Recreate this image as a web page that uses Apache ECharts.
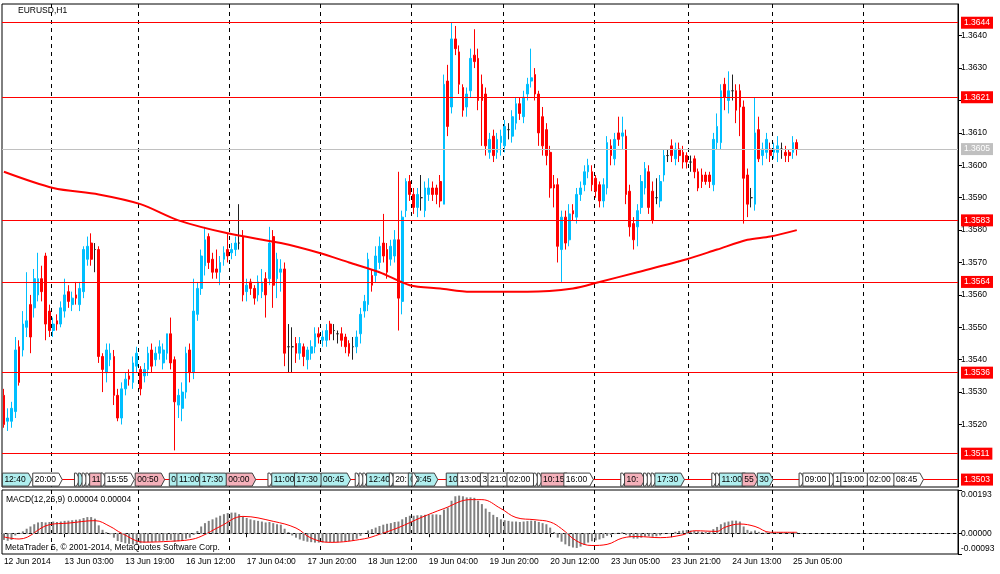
<!DOCTYPE html>
<html>
<head>
<meta charset="utf-8">
<title>EURUSD,H1</title>
<script src="https://cdn.jsdelivr.net/npm/echarts@6/dist/echarts.min.js"></script>
<style>
html,body{margin:0;padding:0;background:#fff}
#container{width:1000px;height:574px}
</style>
</head>
<body>
<div id="container"></div>
<script>
// H1 bars, [open, close, low, high]
var candles = [
[1.3529,1.3520,1.3519,1.3531],[1.3521,1.3522,1.3518,1.3525],[1.3521,1.3525,1.3519,1.3527],[1.3524,1.3543,1.3522,1.3547],[1.3544,1.3533,1.3532,1.3546],
[1.3543,1.3551,1.3541,1.3555],[1.3550,1.3552,1.3547,1.3567],[1.3557,1.3547,1.3542,1.3560],[1.3556,1.3565,1.3553,1.3568],[1.3560,1.3565,1.3558,1.3573],
[1.3565,1.3561,1.3558,1.3569],[1.3572,1.3551,1.3546,1.3573],[1.3555,1.3549,1.3547,1.3557],[1.3549,1.3551,1.3547,1.3553],[1.3552,1.3551,1.3549,1.3554],
[1.3551,1.3556,1.3550,1.3558],[1.3555,1.3560,1.3553,1.3565],[1.3561,1.3558,1.3556,1.3563],[1.3557,1.3559,1.3555,1.3561],[1.3560,1.3559,1.3557,1.3564],
[1.3557,1.3562,1.3555,1.3564],[1.3561,1.3574,1.3559,1.3575],[1.3571,1.3575,1.3569,1.3578],[1.3576,1.3571,1.3569,1.3579],[1.3574,1.3574,1.3567,1.3576],
[1.3574,1.3541,1.3539,1.3575],[1.3541,1.3537,1.3530,1.3542],[1.3536,1.3543,1.3533,1.3545],[1.3540,1.3542,1.3538,1.3545],[1.3541,1.3529,1.3526,1.3543],
[1.3529,1.3522,1.3521,1.3531],[1.3522,1.3531,1.3520,1.3533],[1.3531,1.3534,1.3529,1.3536],[1.3535,1.3534,1.3532,1.3537],[1.3533,1.3539,1.3531,1.3541],
[1.3538,1.3542,1.3536,1.3544],[1.3537,1.3531,1.3529,1.3538],[1.3535,1.3537,1.3533,1.3539],[1.3537,1.3542,1.3535,1.3544],[1.3543,1.3538,1.3536,1.3545],
[1.3540,1.3542,1.3538,1.3544],[1.3542,1.3544,1.3540,1.3546],[1.3539,1.3543,1.3537,1.3545],[1.3542,1.3548,1.3540,1.3548],[1.3548,1.3539,1.3537,1.3553],
[1.3540,1.3527,1.3512,1.3541],[1.3526,1.3529,1.3522,1.3531],[1.3525,1.3530,1.3521,1.3533],[1.3530,1.3542,1.3528,1.3544],[1.3543,1.3536,1.3533,1.3545],
[1.3536,1.3555,1.3534,1.3565],[1.3554,1.3562,1.3552,1.3564],[1.3562,1.3572,1.3560,1.3574],[1.3569,1.3577,1.3566,1.3581],[1.3578,1.3570,1.3568,1.3579],
[1.3571,1.3567,1.3565,1.3573],[1.3568,1.3567,1.3565,1.3574],[1.3567,1.3570,1.3563,1.3572],[1.3571,1.3573,1.3569,1.3575],[1.3574,1.3572,1.3570,1.3579],
[1.3573,1.3574,1.3571,1.3576],[1.3574,1.3576,1.3572,1.3578],[1.3576,1.3576,1.3574,1.3588],[1.3578,1.3560,1.3558,1.3580],[1.3561,1.3563,1.3558,1.3565],
[1.3564,1.3562,1.3560,1.3565],[1.3562,1.3559,1.3557,1.3563],[1.3560,1.3564,1.3558,1.3566],[1.3561,1.3564,1.3559,1.3568],[1.3565,1.3560,1.3553,1.3567],
[1.3565,1.3576,1.3563,1.3581],[1.3578,1.3563,1.3556,1.3580],[1.3565,1.3571,1.3559,1.3573],[1.3567,1.3568,1.3561,1.3571],[1.3568,1.3542,1.3538,1.3570],
[1.3544,1.3544,1.3536,1.3551],[1.3544,1.3544,1.3536,1.3550],[1.3545,1.3542,1.3539,1.3547],[1.3542,1.3545,1.3540,1.3547],[1.3544,1.3541,1.3538,1.3545],
[1.3540,1.3543,1.3537,1.3544],[1.3542,1.3544,1.3540,1.3546],[1.3544,1.3548,1.3542,1.3550],[1.3548,1.3547,1.3545,1.3550],[1.3546,1.3547,1.3544,1.3549],
[1.3546,1.3549,1.3544,1.3551],[1.3551,1.3548,1.3546,1.3552],[1.3549,1.3549,1.3546,1.3551],[1.3548,1.3548,1.3545,1.3549],[1.3548,1.3546,1.3544,1.3550],
[1.3547,1.3544,1.3542,1.3548],[1.3545,1.3542,1.3541,1.3546],[1.3544,1.3544,1.3540,1.3547],[1.3544,1.3547,1.3542,1.3549],[1.3548,1.3554,1.3545,1.3556],
[1.3555,1.3558,1.3553,1.3560],[1.3557,1.3571,1.3555,1.3573],[1.3566,1.3563,1.3561,1.3568],[1.3566,1.3572,1.3564,1.3575],[1.3570,1.3575,1.3568,1.3578],
[1.3576,1.3572,1.3570,1.3585],[1.3574,1.3567,1.3565,1.3576],[1.3571,1.3575,1.3569,1.3577],[1.3572,1.3577,1.3570,1.3580],[1.3577,1.3559,1.3549,1.3598],
[1.3558,1.3584,1.3554,1.3586],[1.3586,1.3595,1.3584,1.3596],[1.3595,1.3591,1.3589,1.3597],[1.3591,1.3587,1.3585,1.3593],[1.3587,1.3591,1.3584,1.3593],
[1.3590,1.3590,1.3586,1.3597],[1.3586,1.3593,1.3584,1.3595],[1.3591,1.3593,1.3589,1.3596],[1.3593,1.3591,1.3589,1.3595],[1.3593,1.3591,1.3588,1.3594],
[1.3595,1.3589,1.3587,1.3597],[1.3588,1.3625,1.3588,1.3628],[1.3626,1.3612,1.3609,1.3631],[1.3618,1.3639,1.3616,1.3644],[1.3639,1.3636,1.3634,1.3643],
[1.3635,1.3625,1.3622,1.3637],[1.3624,1.3617,1.3615,1.3625],[1.3618,1.3622,1.3615,1.3624],[1.3623,1.3633,1.3621,1.3636],[1.3634,1.3632,1.3630,1.3642],
[1.3633,1.3620,1.3617,1.3636],[1.3625,1.3620,1.3606,1.3628],[1.3622,1.3606,1.3603,1.3624],[1.3604,1.3608,1.3602,1.3610],[1.3609,1.3603,1.3601,1.3611],
[1.3604,1.3608,1.3602,1.3610],[1.3607,1.3609,1.3603,1.3611],[1.3606,1.3612,1.3604,1.3614],[1.3611,1.3611,1.3608,1.3613],[1.3609,1.3615,1.3607,1.3617],
[1.3613,1.3619,1.3611,1.3621],[1.3619,1.3616,1.3614,1.3621],[1.3615,1.3621,1.3613,1.3623],[1.3622,1.3625,1.3620,1.3627],[1.3626,1.3627,1.3624,1.3636],
[1.3628,1.3622,1.3620,1.3630],[1.3622,1.3610,1.3606,1.3623],[1.3615,1.3606,1.3603,1.3618],[1.3611,1.3603,1.3600,1.3613],[1.3604,1.3593,1.3590,1.3606],
[1.3594,1.3593,1.3587,1.3597],[1.3594,1.3575,1.3570,1.3596],[1.3574,1.3584,1.3564,1.3586],[1.3584,1.3576,1.3574,1.3586],[1.3577,1.3585,1.3575,1.3588],
[1.3586,1.3585,1.3583,1.3588],[1.3584,1.3591,1.3582,1.3593],[1.3591,1.3593,1.3589,1.3595],[1.3594,1.3598,1.3592,1.3600],[1.3598,1.3600,1.3596,1.3602],
[1.3598,1.3594,1.3592,1.3600],[1.3596,1.3592,1.3590,1.3597],[1.3594,1.3589,1.3587,1.3595],[1.3589,1.3594,1.3587,1.3596],[1.3593,1.3607,1.3591,1.3609],
[1.3606,1.3603,1.3600,1.3608],[1.3602,1.3608,1.3600,1.3610],[1.3610,1.3608,1.3606,1.3615],[1.3609,1.3610,1.3605,1.3615],[1.3609,1.3591,1.3588,1.3611],
[1.3592,1.3581,1.3578,1.3594],[1.3582,1.3577,1.3574,1.3584],[1.3581,1.3586,1.3575,1.3588],[1.3587,1.3595,1.3585,1.3597],[1.3593,1.3599,1.3591,1.3601],
[1.3598,1.3587,1.3585,1.3600],[1.3592,1.3583,1.3582,1.3595],[1.3590,1.3590,1.3588,1.3596],[1.3589,1.3595,1.3587,1.3597],[1.3597,1.3603,1.3595,1.3605],
[1.3603,1.3603,1.3601,1.3605],[1.3606,1.3603,1.3601,1.3608],[1.3602,1.3605,1.3600,1.3607],[1.3605,1.3603,1.3601,1.3607],[1.3604,1.3601,1.3599,1.3606],
[1.3603,1.3601,1.3599,1.3604],[1.3601,1.3601,1.3598,1.3603],[1.3602,1.3598,1.3596,1.3603],[1.3598,1.3593,1.3592,1.3599],[1.3597,1.3595,1.3593,1.3599],
[1.3597,1.3595,1.3594,1.3598],[1.3597,1.3595,1.3593,1.3598],[1.3594,1.3608,1.3592,1.3610],[1.3607,1.3612,1.3605,1.3616],[1.3607,1.3623,1.3605,1.3625],
[1.3625,1.3621,1.3617,1.3627],[1.3620,1.3623,1.3616,1.3629],[1.3623,1.3623,1.3620,1.3628],[1.3623,1.3617,1.3613,1.3625],[1.3623,1.3618,1.3609,1.3625],
[1.3618,1.3596,1.3582,1.3620],[1.3597,1.3588,1.3584,1.3599],[1.3590,1.3590,1.3587,1.3593],[1.3588,1.3610,1.3586,1.3621],[1.3611,1.3602,1.3601,1.3615],
[1.3603,1.3605,1.3600,1.3607],[1.3604,1.3608,1.3602,1.3610],[1.3605,1.3603,1.3601,1.3607],[1.3604,1.3605,1.3602,1.3607],[1.3604,1.3606,1.3601,1.3609],
[1.3605,1.3605,1.3602,1.3607],[1.3604,1.3603,1.3601,1.3606],[1.3604,1.3603,1.3601,1.3605],[1.3604,1.3607,1.3602,1.3609],[1.3607,1.3605,1.3603,1.3608]
];

// moving average read at points along the line: [bar, price]
var maPoints = [[0,1.3598],[13,1.3593],[25,1.3591],[36,1.3588],[46,1.3583],[59,1.3579],[73,1.3576],[83,1.3573],[91,1.3570],
  [99,1.3567],[107,1.3563],[115,1.3562],[123,1.3561],[131,1.3561],[138,1.3561],[150,1.3562],[157,1.3564],[167,1.3567],
  [180,1.3571],[188,1.3574],[196,1.3577],[202,1.3578],[209,1.3580]];

// MACD(12,26,9) main as histogram, one value per bar
var macdHist = [
-0.00030,-0.00034,-0.00030,-0.00010,0.00002,0.00008,0.00020,0.00030,0.00040,0.00048,
0.00050,0.00048,0.00050,0.00052,0.00050,0.00052,0.00055,0.00056,0.00058,0.00060,0.00062,
0.00068,0.00072,0.00072,0.00065,0.00035,0.00015,0.00005,-0.00005,
-0.00020,-0.00035,-0.00040,-0.00045,-0.00048,-0.00050,-0.00048,-0.00045,
-0.00042,-0.00040,-0.00040,-0.00038,-0.00036,-0.00034,-0.00032,-0.00030,-0.00038,-0.00036,-0.00034,-0.00025,
-0.00020,-0.00008,0.00010,0.00030,
0.00045,0.00055,0.00062,0.00070,0.00078,0.00085,0.00090,0.00092,
0.00092,0.00085,0.00075,0.00068,
0.00062,0.00058,0.00055,0.00052,0.00048,0.00050,0.00045,0.00040,0.00038,0.00020,
0.00005,-0.00010,-0.00020,-0.00028,-0.00034,-0.00038,
-0.00040,-0.00042,-0.00042,-0.00042,-0.00040,-0.00040,-0.00040,-0.00040,-0.00038,-0.00036,-0.00035,-0.00033,
-0.00025,-0.00012,0.00000,
0.00012,0.00018,0.00025,0.00032,0.00038,0.00042,0.00045,0.00050,0.00052,
0.00062,0.00072,0.00078,0.00078,0.00080,0.00080,0.00082,0.00082,0.00084,0.00084,0.00082,
0.00105,0.00115,0.00145,0.00165,0.00168,0.00165,0.00160,0.00160,
0.00158,0.00145,0.00130,0.00110,0.00095,0.00082,0.00072,0.00062,
0.00058,0.00055,0.00052,0.00052,0.00050,0.00052,0.00054,0.00056,0.00055,0.00050,0.00045,0.00040,
0.00025,0.00005,-0.00020,-0.00038,
-0.00050,-0.00058,-0.00064,-0.00066,-0.00060,
-0.00052,-0.00042,-0.00036,-0.00032,-0.00028,-0.00022,-0.00012,-0.00008,
-0.00004,0.00002,0.00004,-0.00008,-0.00018,-0.00024,-0.00024,-0.00020,-0.00015,-0.00014,
-0.00016,-0.00014,-0.00010,-0.00004,-0.00002,0.00000,
0.00006,0.00010,0.00012,0.00014,0.00012,0.00010,0.00008,0.00006,0.00006,0.00005,
0.00018,0.00028,0.00040,0.00048,0.00052,0.00056,0.00056,0.00052,
0.00030,0.00015,0.00008,0.00012,0.00006,
0.00002,0.00004,0.00002,0.00002,0.00003,0.00002,0.00003,0.00003,0.00004,0.00004
];

// signal line read at points: [bar, value]
var signalPoints = [[0,-0.00017],[4,-0.00026],[12,0.00038],[17,0.00045],[24,0.00056],[28,0.00030],[31,0.00000],[37,-0.00040],
  [44,-0.00036],[49,-0.00029],[52,-0.00014],[57,0.00030],[63,0.00075],[71,0.00053],[77,0.00023],[81,-0.00022],[86,-0.00041],
  [95,-0.00025],[99,-0.00005],[104,0.00025],[110,0.00070],[116,0.00110],[123,0.00150],[126,0.00150],[131,0.00110],[135,0.00070],
  [140,0.00060],[144,0.00050],[147,0.00020],[151,-0.00035],[155,-0.00055],[159,-0.00050],[163,-0.00022],[167,-0.00015],
  [173,-0.00020],[179,-0.00007],[182,0.00011],[188,0.00008],[190,0.00026],[194,0.00041],[198,0.00030],[202,0.00004],[209,0.00004]];

var timeLabels = ['12 Jun 2014','13 Jun 03:00','13 Jun 19:00','16 Jun 12:00','17 Jun 04:00','17 Jun 20:00','18 Jun 12:00',
  '19 Jun 04:00','19 Jun 20:00','20 Jun 12:00','23 Jun 05:00','23 Jun 21:00','24 Jun 13:00','25 Jun 05:00'];
var labelStep = 16;
var slotCount = 252;
var gridBars = [13,36,60,84,108,132,156,181,203,227];

var priceTicks = [1.3520,1.3530,1.3540,1.3550,1.3560,1.3570,1.3580,1.3590,1.3600,1.3610,1.3620,1.3630,1.3640];
var levels = [1.3644,1.3621,1.3583,1.3564,1.3536,1.3511,1.3503];
var lastPrice = 1.3605;
var macdTicks = [0.00193,0.00000,-0.00093];

// event tags on the 1.3503 line: [bar, text, c=cyan p=pink w=white]
var tagLevel = 1.3503;
var events = [[0,'12:40','c'],[8,'20:00','w'],[19,'','w'],[20,'','c'],[21,'','w'],[22,'','w'],[23,'11','p'],[26,'','w'],
  [27,'15:55','w'],[35,'00:50','p'],[44,'0','c'],[46,'11:00','c'],[52,'17:30','c'],[59,'00:00','p'],[70,'','w'],[71,'11:00','c'],
  [77,'17:30','c'],[84,'00:45','c'],[93,'','w'],[94,'','w'],[95,'','w'],[96,'12:40','c'],[102,'','w'],[103,'20:','w'],
  [107,'00:45','c'],[108,'','w'],[117,'10','c'],[120,'13:00','w'],[126,'3','w'],[128,'21:0','w'],[133,'02:00','w'],
  [140,'','w'],[141,'','w'],[142,'10:15','p'],[148,'16:00','w'],[163,'','w'],[164,'10:','p'],[169,'','w'],[170,'','w'],
  [171,'','w'],[172,'17:30','c'],[187,'','w'],[188,'','w'],[189,'11:00','c'],[195,'55','p'],[199,'30','c'],[210,'','w'],
  [211,'09:00','w'],[218,'','w'],[219,'16','w'],[221,'19:00','w'],[228,'02:00','w'],[235,'08:45','w']];
var tagFill = {c:'#AFEEEE', p:'#F4B0BA', w:'#FFFFFF'};

var FONT = '"Liberation Sans", Arial, sans-serif';
var slots = [];
for (var i = 0; i < slotCount; i++) slots.push(String(i));

function isGridBar(index){ return gridBars.indexOf(index) >= 0; }
function isLabelBar(index){ return index % labelStep === 0 && index / labelStep < timeLabels.length; }

function renderTag(params, api){
  var e = events[params.dataIndex];
  var p = api.coord([e[0], tagLevel]);
  var x = p[0] - 1.5, y = p[1];
  var w = e[1] ? e[1].length * 4.6 + 3 : 2;
  var h = 6.5;
  var kids = [{
    type:'polygon',
    shape:{points:[[x,y-h],[x+w,y-h],[x+w+3.5,y],[x+w,y+h],[x,y+h]]},
    style:{fill:tagFill[e[2]], stroke:'#404040', lineWidth:1}
  }];
  if (e[1]) {
    kids.push({type:'text', style:{text:e[1], x:x+2, y:y+0.5, verticalAlign:'middle', fontSize:8.5, fontFamily:FONT, fill:'#000'}});
  }
  return {type:'group', children:kids};
}

var levelLines = levels.map(function(v){
  return {yAxis:v, lineStyle:{color:'#FF0000', width:1, type:'solid'},
    label:{backgroundColor:'#FF0000', color:'#fff'}};
});
levelLines.push({yAxis:lastPrice, lineStyle:{color:'#C0C0C0', width:1, type:'solid'},
  label:{backgroundColor:'#C0C0C0', color:'#fff'}});

var dom = document.getElementById('container');
var myChart = echarts.init(dom);
var option = {
  animation:false,
  backgroundColor:'#fff',
  grid:[
    {left:2, top:4, right:42, height:483, show:true, borderColor:'#000', borderWidth:1, outerBoundsMode:'none'},
    {left:2, top:490, right:42, height:64, show:true, borderColor:'#000', borderWidth:1, outerBoundsMode:'none'}
  ],
  xAxis:[
    {type:'category', gridIndex:0, data:slots, boundaryGap:true,
      axisLine:{show:false}, axisTick:{show:false}, axisLabel:{show:false},
      splitLine:{show:true, interval:isGridBar, lineStyle:{color:'#000', type:[4,4], width:1}}},
    {type:'category', gridIndex:1, data:slots, boundaryGap:true,
      axisLine:{show:true, lineStyle:{color:'#000'}},
      axisTick:{show:true, alignWithLabel:true, interval:isLabelBar, length:4, lineStyle:{color:'#000'}},
      axisLabel:{show:true, interval:isLabelBar, align:'left', margin:3, color:'#000', fontSize:8.5, fontFamily:FONT,
        formatter:function(v, idx){ return timeLabels[idx / labelStep] || ''; }},
      splitLine:{show:true, interval:isGridBar, lineStyle:{color:'#000', type:[4,4], width:1}}}
  ],
  yAxis:[
    {type:'value', gridIndex:0, position:'right', min:1.350071, max:1.364978,
      axisLine:{show:true, lineStyle:{color:'#000'}},
      axisTick:{show:true, length:4, customValues:priceTicks, lineStyle:{color:'#000'}},
      axisLabel:{customValues:priceTicks, margin:3, color:'#000', fontSize:8.5, fontFamily:FONT,
        formatter:function(v){ return v.toFixed(4); }},
      splitLine:{show:false}},
    {type:'value', gridIndex:1, position:'right', min:-0.00093, max:0.00193,
      axisLine:{show:true, lineStyle:{color:'#000'}},
      axisTick:{show:true, length:4, customValues:macdTicks, lineStyle:{color:'#000'}},
      axisLabel:{customValues:macdTicks, margin:3, color:'#000', fontSize:8.5, fontFamily:FONT,
        formatter:function(v){
          var s = v.toFixed(5);
          if (v === macdTicks[0]) return '{top|' + s + '}';
          if (v === macdTicks[macdTicks.length - 1]) return '{bot|' + s + '}';
          return s;
        },
        rich:{
          top:{padding:[10,0,0,0], fontSize:8.5, fontFamily:FONT, color:'#000'},
          bot:{padding:[0,0,10,0], fontSize:8.5, fontFamily:FONT, color:'#000'}
        }},
      splitLine:{show:false}}
  ],
  graphic:[
    {type:'text', left:18, top:6, style:{text:'EURUSD,H1', fontSize:8.5, fontFamily:FONT, fill:'#000'}},
    {type:'text', left:6, top:495, style:{text:'MACD(12,26,9) 0.00004 0.00004', fontSize:8.5, fontFamily:FONT, fill:'#000'}},
    {type:'text', left:5, top:543, style:{text:'MetaTrader 5, \u00A9 2001-2014, MetaQuotes Software Corp.', fontSize:8.5, fontFamily:FONT, fill:'#000'}}
  ],
  series:[
    {type:'candlestick', name:'EURUSD', xAxisIndex:0, yAxisIndex:0, data:candles, barWidth:2.2,
      itemStyle:{color:'#00BFFF', color0:'#FF0000', borderColor:'#00BFFF', borderColor0:'#FF0000', borderColorDoji:'#202020', borderWidth:1},
      markLine:{silent:true, symbol:['none','none'], precision:4,
        label:{show:true, position:'end', distance:3, padding:[2,3,1,3], fontSize:8.5, fontFamily:FONT,
          formatter:function(p){ return Number(p.value).toFixed(4); }},
        data:levelLines}},
    {type:'line', name:'MA', xAxisIndex:0, yAxisIndex:0, data:maPoints, showSymbol:false, smooth:0.3,
      lineStyle:{color:'#FF0000', width:2}, z:3},
    {type:'custom', name:'events', xAxisIndex:0, yAxisIndex:0, renderItem:renderTag, clip:false, z:5,
      data:events.map(function(e){ return [e[0], tagLevel]; })},
    {type:'bar', name:'MACD', xAxisIndex:1, yAxisIndex:1, data:macdHist, barWidth:2,
      itemStyle:{color:'#808080'},
      markLine:{silent:true, symbol:['none','none'], label:{show:false},
        lineStyle:{color:'#A0A0A0', type:[3,3], width:1}, data:[{yAxis:0}]}},
    {type:'line', name:'Signal', xAxisIndex:1, yAxisIndex:1, data:signalPoints, showSymbol:false, smooth:0.4,
      lineStyle:{color:'#FF0000', width:1}, z:3}
  ]
};
if (option && typeof option === 'object') {
  myChart.setOption(option, true);
}
</script>
</body>
</html>
